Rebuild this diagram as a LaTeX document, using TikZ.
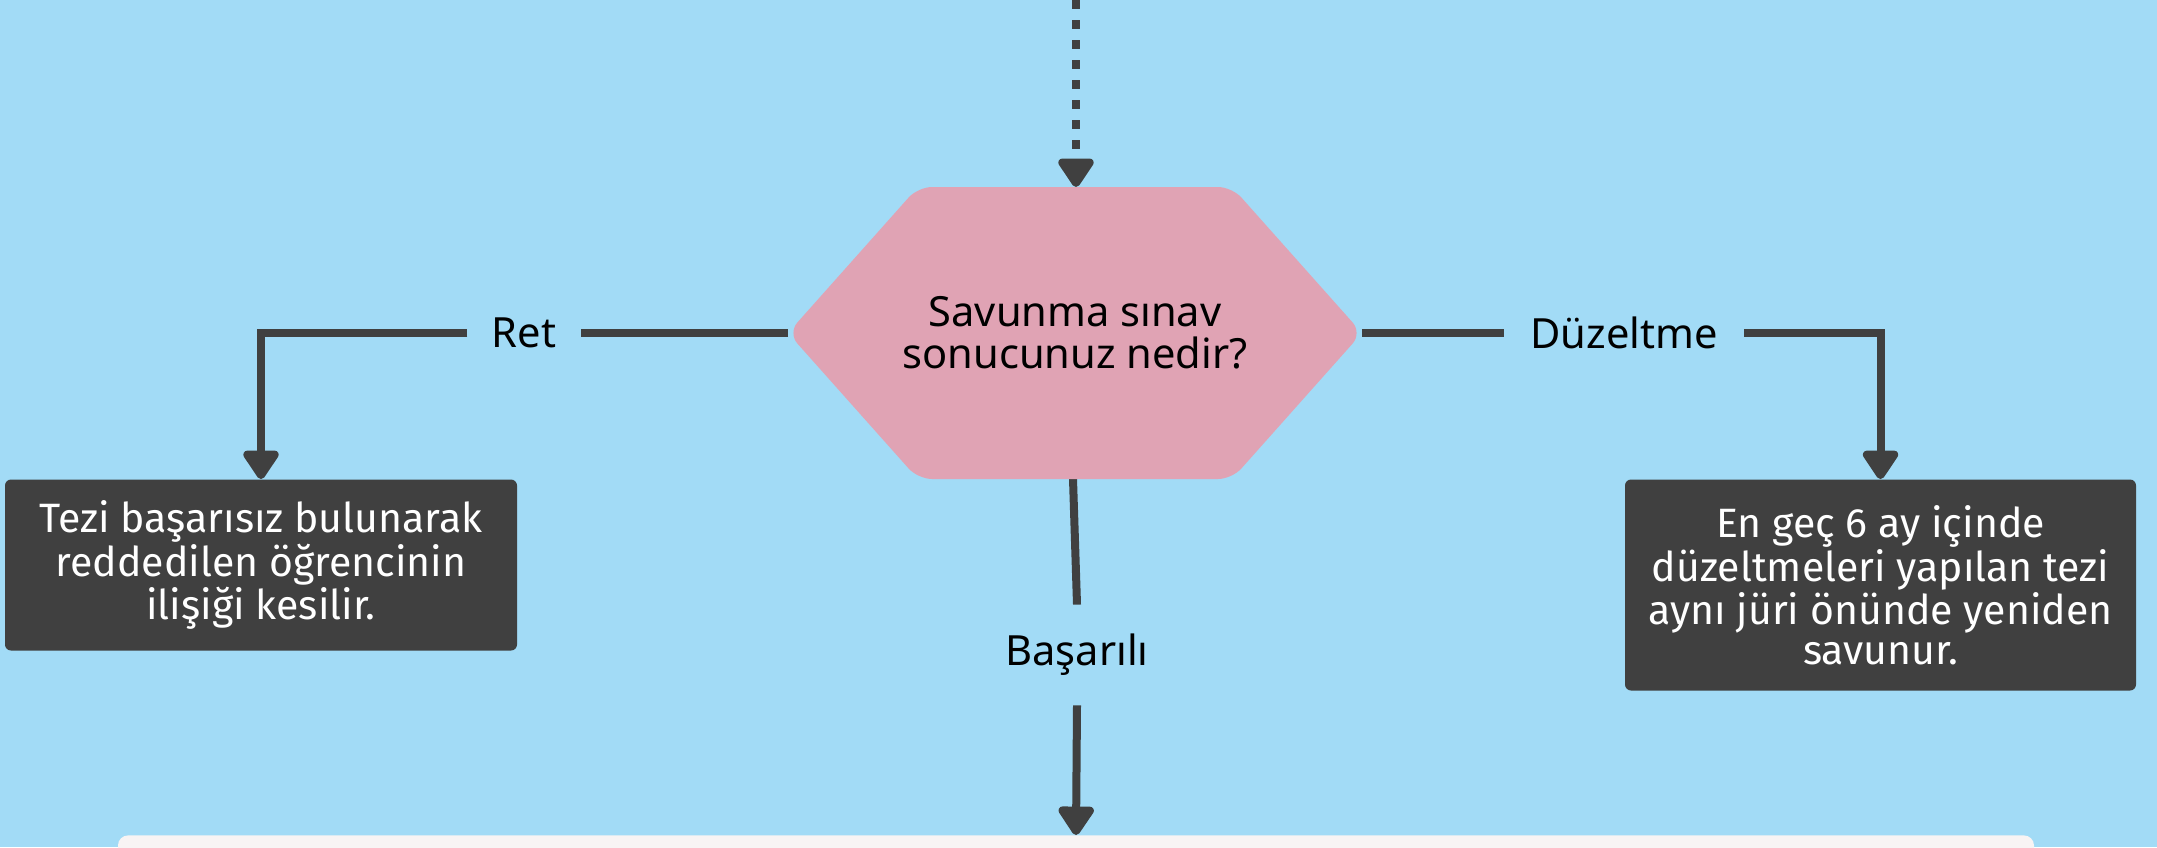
\documentclass[tikz,border=0pt]{standalone}
\usepackage{fontspec}
\setmainfont{Noto Sans}
\newfontfamily\boxfont{Fira Sans}
\usetikzlibrary{arrows.meta}
\definecolor{bg}{HTML}{A2DBF6}
\definecolor{hexfill}{HTML}{E0A3B4}
\definecolor{dark}{HTML}{404040}
\definecolor{paper}{HTML}{F8F4F4}
\begin{document}
\begin{tikzpicture}[x=0.5pt,y=-0.5pt,
  conn/.style={draw=dark, line width=4pt},
  tip/.style={-{Triangle[width=20pt,length=16pt,round]}},
  hexshape/.style={fill=hexfill, rounded corners=7pt},
  lbl/.style={font=\fontsize{20.8}{21}\selectfont, text=black, inner sep=0pt},
  darkbox/.style={fill=dark, rounded corners=3pt, text=white, align=center,
    font=\boxfont\fontsize{20.5}{20}\selectfont, inner sep=0pt},
  paperbox/.style={fill=paper, rounded corners=5pt, inner sep=0pt},
]
\fill[bg] (0,0) rectangle (2157,847);
\useasboundingbox (0,0) rectangle (2157,847);
\clip (0,0) rectangle (2157,847);

% nodes
\coordinate (top) at (1076,0);
\coordinate (hexN) at (1076,187);
\coordinate (hexW) at (788,333);
\coordinate (hexE) at (1362,333);
\coordinate (hexS) at (1073,479);

\node[darkbox, minimum width=256pt, minimum height=85.5pt] (left) at (261,565)
  {Tezi başarısız bulunarak\\reddedilen öğrencinin\\ilişiği kesilir.};
\node[darkbox, minimum width=255.5pt, minimum height=105.5pt] (right) at (1880.5,585)
  {En geç 6 ay içinde\\düzeltmeleri yapılan tezi\\aynı jüri önünde yeniden\\savunur.};
\node[paperbox, minimum width=958pt, minimum height=40pt, anchor=north] (final) at (1076,835) {};

\node[lbl, inner xsep=12pt] (ret) at (524,333) {Ret};
\node[lbl, inner xsep=13pt] (duz) at (1624,333) {Düzeltme};
\node[lbl, minimum height=50pt] (bas) at (1077,655) {Başarılı};

% connectors
\draw[conn, line width=4.25pt, dash pattern=on 4.35pt off 5.65pt, tip] (top) -- (hexN);
\draw[conn] (hexW) -- (ret.east);
\draw[conn, tip] (ret.west) -| (left.north);
\draw[conn] (hexE) -- (duz.west);
\draw[conn, tip] (duz.east) -| (right.north);
\draw[conn] (hexS) -- (bas.north);
\draw[conn, tip] (bas.south) -- (final.north);

% decision hexagon
\path[hexshape] (918,187) -- (1232,187) -- (1362,333) -- (1232,479) -- (918,479) -- (788,333) -- cycle;
\node[lbl, align=center] (q) at (1075,333)
  {Savunma sınav\\sonucunuz nedir?};
\end{tikzpicture}
\end{document}
